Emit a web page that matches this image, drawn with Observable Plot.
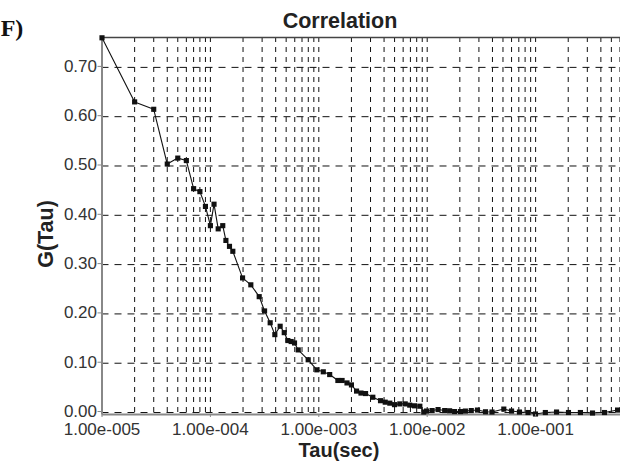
<!DOCTYPE html>
<html>
<head>
<meta charset="utf-8">
<script src="https://cdn.jsdelivr.net/npm/d3@7"></script>
<script src="https://cdn.jsdelivr.net/npm/@observablehq/plot@0.6"></script>
<style>
  html, body { margin: 0; padding: 0; background: #fff; }
  #chart svg { display: block; }
</style>
</head>
<body>
<div id="chart"></div>
<script>
// ---- data ----
const tau = [1.00e-5, 2.0e-5, 3.0e-5, 4.0e-5, 5.0e-5, 6.0e-5, 7.0e-5, 8.0e-5, 9.0e-5, 1.0e-4,
  1.08e-4, 1.18e-4, 1.30e-4, 1.39e-4, 1.50e-4, 1.61e-4,
  1.98e-4, 2.36e-4, 2.82e-4, 3.16e-4, 3.56e-4, 3.93e-4, 4.40e-4, 4.80e-4, 5.18e-4, 5.56e-4, 5.97e-4, 6.46e-4,
  7.98e-4, 9.6e-4,
  1.10e-3, 1.26e-3, 1.50e-3, 1.64e-3, 1.82e-3, 2.0e-3, 2.23e-3, 2.45e-3, 2.70e-3, 3.15e-3, 3.71e-3,
  4.10e-3, 4.52e-3, 4.99e-3, 5.59e-3, 6.27e-3, 6.90e-3, 7.64e-3, 8.55e-3, 9.30e-3, 9.86e-3,
  1.11e-2, 1.26e-2, 1.45e-2, 1.61e-2, 1.79e-2, 2.03e-2, 2.25e-2, 2.55e-2, 2.91e-2, 3.45e-2, 3.96e-2,
  5.09e-2, 6.0e-2, 7.1e-2, 8.51e-2, 9.98e-2,
  1.23e-1, 1.56e-1, 2.01e-1, 2.59e-1, 3.35e-1, 4.32e-1, 5.70e-1];
const gTau = [0.760, 0.630, 0.615, 0.504, 0.516, 0.511, 0.454, 0.448, 0.418, 0.379,
  0.4225, 0.3725, 0.379, 0.349, 0.337, 0.327,
  0.273, 0.259, 0.235, 0.206, 0.182, 0.158, 0.175, 0.162, 0.146, 0.144, 0.141, 0.127,
  0.107, 0.0866,
  0.0826, 0.077, 0.065, 0.065, 0.060, 0.056, 0.0435, 0.0395, 0.0385, 0.031, 0.024,
  0.021, 0.019, 0.016, 0.0175, 0.0175, 0.015, 0.0136, 0.0128, 0.001, 0.003,
  0.004, 0.006, 0.004, 0.0035, 0.002, 0.002, 0.003, 0.004, 0.005, 0.0015, 0.001,
  0.007, 0.003, 0.001, 0.000, -0.003,
  0.000, 0.001, 0.000, 0.000, -0.001, 0.000, 0.005];

const xTicks = [1e-5, 1e-4, 1e-3, 1e-2, 1e-1];
const yTicks = [0.0, 0.1, 0.2, 0.3, 0.4, 0.5, 0.6, 0.7];
const decades = [1e-5, 1e-4, 1e-3, 1e-2, 1e-1];
const multiples = [1, 2, 3, 4, 5, 6, 7, 8, 9];

const xDomain = [1e-5, 0.607];
const yDomain = [-0.004, 0.7606];

const data = tau.map((t, i) => ({tau: t, g: gTau[i]}));
const gridX = decades.flatMap(d => multiples.map(m => d * m))
  .filter(v => v > xDomain[0] * 1.001 && v <= xDomain[1]);

function fmtExp(v) {
  const [m, e] = v.toExponential(2).split("e");
  const n = Math.abs(+e);
  return m + "e" + (+e < 0 ? "-" : "+") + String(n).padStart(3, "0");
}

const W = 620, H = 461;
const chart = Plot.plot({
  width: W,
  height: H,
  marginLeft: 101.5,
  marginRight: 0,
  marginTop: 37,
  marginBottom: 47,
  style: {fontFamily: "'Liberation Sans', Arial, sans-serif", fontSize: "17px", color: "#333", background: "#fff", overflow: "visible"},
  x: {type: "log", domain: xDomain, ticks: xTicks, tickFormat: fmtExp, tickSize: 3, tickPadding: 5, label: null},
  y: {domain: yDomain, ticks: yTicks, tickFormat: d3.format(".2f"), tickSize: 4, tickPadding: 1, label: null},
  marks: [
    Plot.ruleX(gridX, {stroke: "#111", strokeWidth: 1, strokeDasharray: "5,5"}),
    Plot.ruleY(yTicks, {stroke: "#111", strokeWidth: 1, strokeDasharray: "7,6"}),
    Plot.ruleY([yDomain[1]], {stroke: "#444", strokeWidth: 1.6}),
    Plot.ruleY([yDomain[0]], {stroke: "#888", strokeWidth: 2}),
    Plot.ruleX([xDomain[0]], {stroke: "#888", strokeWidth: 2}),
    Plot.line(data, {x: "tau", y: "g", stroke: "#111", strokeWidth: 1.1}),
    Plot.dot(data, {x: "tau", y: "g", symbol: "square", r: 2.9, fill: "#111", stroke: "none"}),
    Plot.axisX({ticks: xTicks, tickFormat: fmtExp, tickSize: 3, tickPadding: 5, stroke: "#888", fill: "#333", fontSize: 17, label: null}),
    Plot.axisY({ticks: yTicks, tickFormat: d3.format(".2f"), tickSize: 4, tickPadding: 1, stroke: "#888", fill: "#333", fontSize: 17, label: null, dy: -1})
  ]
});
document.getElementById("chart").appendChild(chart);

const svg = d3.select(chart);
svg.append("text").text("F)")
  .attr("x", 12).attr("y", 36)
  .attr("font-family", "'Liberation Serif', 'Times New Roman', serif")
  .attr("font-weight", "bold").attr("font-size", 24).attr("fill", "#111");
svg.append("text").text("Correlation")
  .attr("x", 340).attr("y", 28).attr("text-anchor", "middle")
  .attr("font-family", "'Liberation Sans', Arial, sans-serif")
  .attr("font-weight", "bold").attr("font-size", 21.5).attr("fill", "#222");
svg.append("text").text("Tau(sec)")
  .attr("x", 339).attr("y", 456.5).attr("text-anchor", "middle")
  .attr("font-family", "'Liberation Sans', Arial, sans-serif")
  .attr("font-weight", "bold").attr("font-size", 20).attr("fill", "#222");
svg.append("text").text("G(Tau)")
  .attr("transform", "translate(53,234) rotate(-90)").attr("text-anchor", "middle")
  .attr("font-family", "'Liberation Sans', Arial, sans-serif")
  .attr("font-weight", "bold").attr("font-size", 21.5).attr("fill", "#222");
</script>
</body>
</html>
